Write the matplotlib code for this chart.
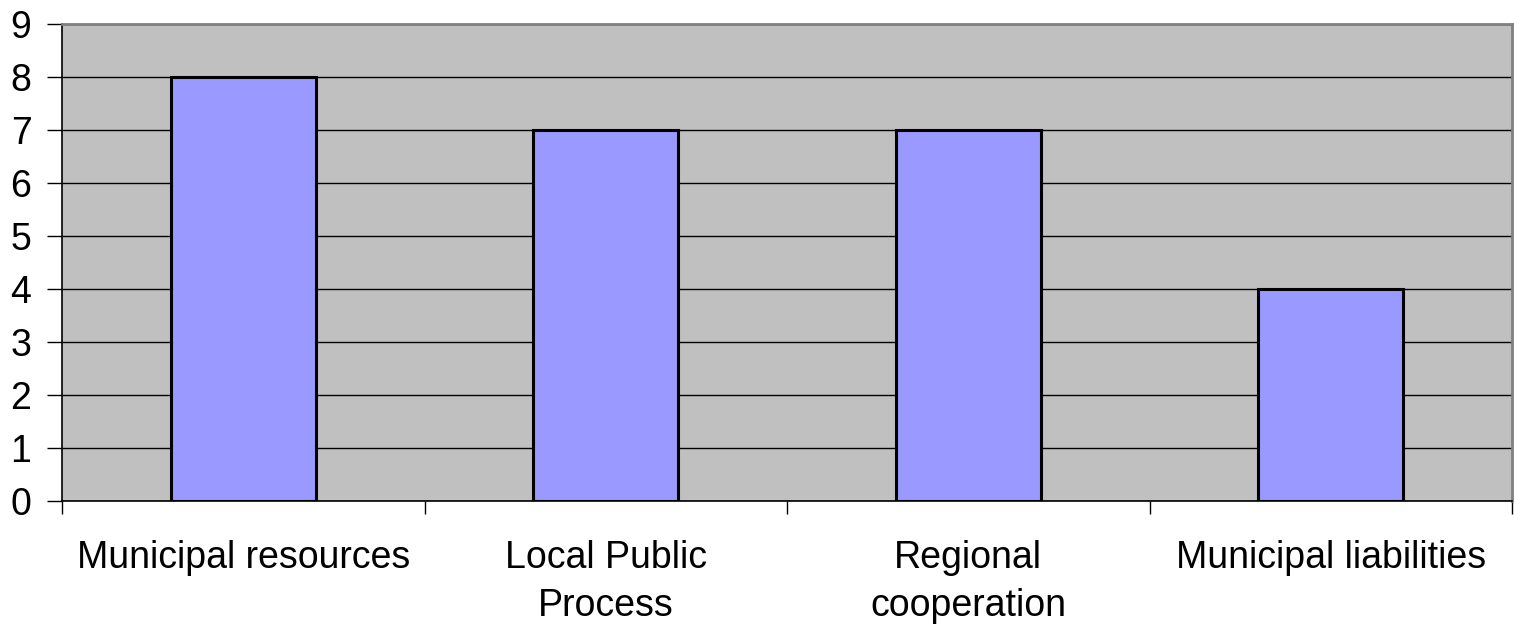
import matplotlib
matplotlib.use("Agg")
import matplotlib.pyplot as plt

categories = ["Municipal resources", "Local Public\nProcess", "Regional\ncooperation", "Municipal liabilities"]
values = [8, 7, 7, 4]
y_ticks = list(range(0, 10))

plt.rcParams["font.family"] = ["Liberation Sans", "DejaVu Sans"]

fig = plt.figure(figsize=(15.14, 6.28), dpi=100)
ax = fig.add_axes([62 / 1514, 1 - 501 / 628, (1512 - 62) / 1514, (501 - 24) / 628])
ax.set_facecolor("#C0C0C0")

x = list(range(len(categories)))
ax.bar(x, values, width=0.4, color="#9999FF", edgecolor="black", linewidth=2.2, zorder=3)

ax.set_xlim(-0.5, len(categories) - 0.5)
ax.set_ylim(0, 9)
ax.set_yticks(y_ticks)
ax.set_yticklabels([str(t) for t in y_ticks], fontsize=27)
ax.yaxis.grid(True, color="black", linewidth=1, zorder=1)
ax.set_axisbelow(True)

# category ticks sit on the boundaries between groups
ax.set_xticks([i - 0.5 for i in range(len(categories) + 1)])
ax.set_xticklabels([])
ax.set_xticks(x, minor=True)
ax.set_xticklabels(categories, minor=True, fontsize=27, linespacing=1.42)
ax.tick_params(axis="x", which="minor", length=0, pad=28)
ax.tick_params(axis="x", which="major", length=9, width=1, color="black", direction="out")
ax.tick_params(axis="y", length=11, width=1, color="black", direction="out", pad=11)

ax.spines["left"].set_color("black")
ax.spines["left"].set_linewidth(1.2)
ax.spines["bottom"].set_color("black")
ax.spines["bottom"].set_linewidth(1.2)
ax.spines["top"].set_color("#808080")
ax.spines["top"].set_linewidth(2)
ax.spines["right"].set_color("#808080")
ax.spines["right"].set_linewidth(2)

fig.savefig("out.png", dpi=100, facecolor="white")
